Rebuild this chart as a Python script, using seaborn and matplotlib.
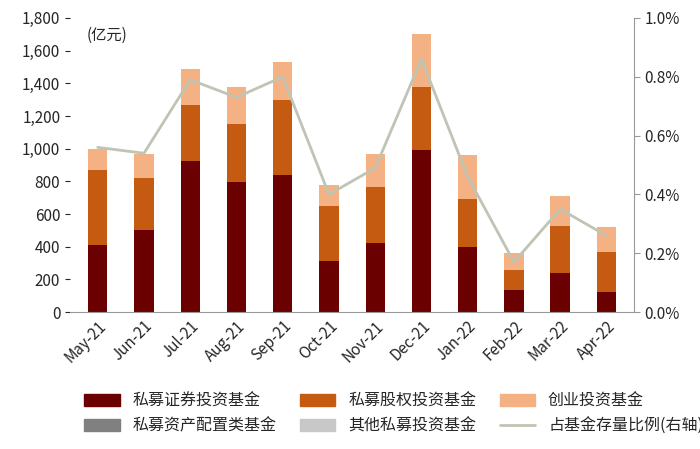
import matplotlib
matplotlib.use("Agg")
import matplotlib.pyplot as plt
import seaborn as sns
import numpy as np
import pandas as pd
from matplotlib.lines import Line2D
from matplotlib.patches import Patch

sns.set_style("white")
plt.rcParams['font.family'] = ['Noto Sans CJK SC', 'DejaVu Sans']

months = ["May-21","Jun-21","Jul-21","Aug-21","Sep-21","Oct-21","Nov-21","Dec-21","Jan-22","Feb-22","Mar-22","Apr-22"]
securities = [410,500,925,795,840,315,425,990,400,135,240,125]
equity = [460,320,345,355,455,335,340,385,290,125,285,240]
venture = [130,145,220,230,235,125,200,325,270,100,185,155]
allocation = [0]*12
other = [0]*12
ratio = [0.56,0.54,0.79,0.73,0.80,0.40,0.49,0.86,0.46,0.17,0.35,0.26]

c1, c2, c3, c4, c5, cl = "#6B0000", "#C55A11", "#F4B183", "#808080", "#C8C8C8", "#BFC4B4"

fig = plt.figure(figsize=(7, 4.49), dpi=100)
ax = fig.add_axes([0.1, 0.305, 0.806, 0.655])
x = np.arange(len(months))
b1 = np.array(securities); b2 = b1 + np.array(equity)
sns.barplot(x=months, y=securities, color=c1, ax=ax, width=0.42, saturation=1, linewidth=0)
ax.bar(x, equity, bottom=b1, color=c2, width=0.42, linewidth=0)
ax.bar(x, venture, bottom=b2, color=c3, width=0.42, linewidth=0)
ax.set_ylim(0, 1800)
ax.set_yticks(range(0, 1801, 200))
ax.set_yticklabels([f"{v:,}" for v in range(0, 1801, 200)], fontsize=11)
ax.set_xlim(-0.6, 11.6)
ax.set_xticks(x)
ax.set_xticklabels(months, rotation=45, ha="right", rotation_mode="anchor", fontsize=11)
ax.tick_params(axis='x', length=0, pad=4)
for s in ["top", "right", "left"]:
    ax.spines[s].set_visible(False)
ax.spines["bottom"].set_color("#999999")
ax.text(0.03, 0.97, "(亿元)", transform=ax.transAxes, fontsize=11, va="top")

ax2 = ax.twinx()
ax2.plot(x, ratio, color=cl, lw=2)
ax2.set_ylim(0, 1.0)
ax2.set_yticks(np.arange(0, 1.01, 0.2))
ax2.set_yticklabels([f"{v:.1f}%" for v in np.arange(0, 1.01, 0.2)], fontsize=11)
for s in ["top", "left", "bottom"]:
    ax2.spines[s].set_visible(False)
ax2.spines["right"].set_color("#999999")
ax2.tick_params(axis='y', length=4, color="#999999")

# column-major order so rows read: sec, equity, venture / alloc, other, ratio
handles = [Patch(color=c1), Patch(color=c4), Patch(color=c2),
           Patch(color=c5), Patch(color=c3), Line2D([], [], color=cl, lw=2)]
labels = ["私募证券投资基金", "私募资产配置类基金", "私募股权投资基金",
          "其他私募投资基金", "创业投资基金", "占基金存量比例(右轴)"]
fig.legend(handles, labels, ncol=3, loc="lower left", bbox_to_anchor=(0.1, 0.0),
           frameon=False, fontsize=11.5, columnspacing=1.5, handlelength=2.2, handleheight=0.8)
fig.savefig("out.png", dpi=100)
